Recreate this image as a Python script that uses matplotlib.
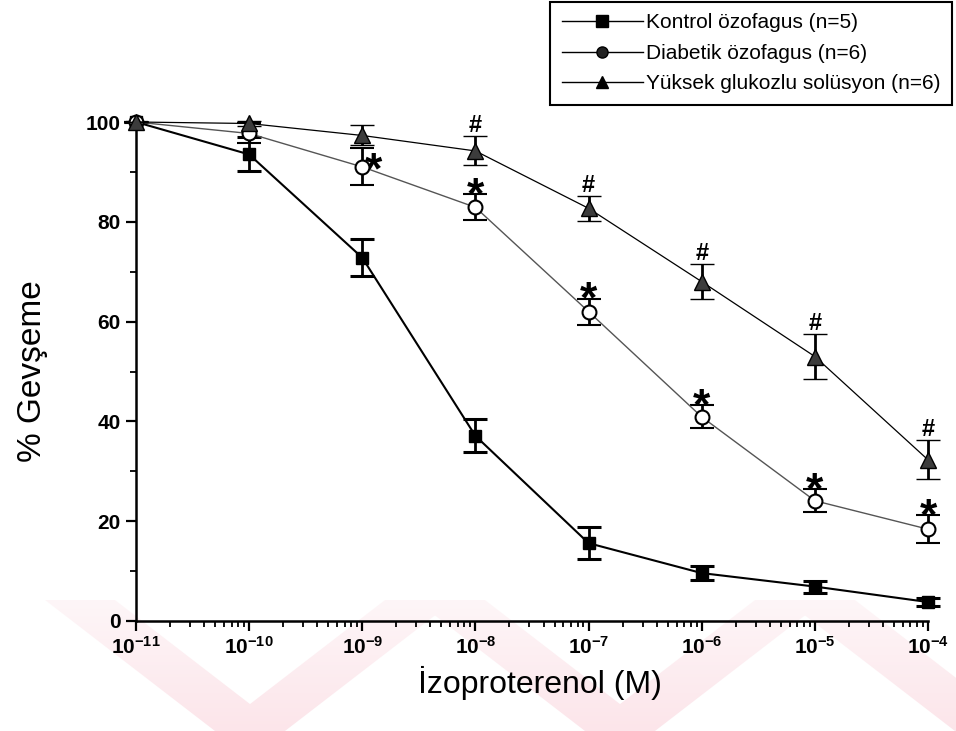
import numpy as np
import matplotlib
matplotlib.use("Agg")
import matplotlib.pyplot as plt
from matplotlib.lines import Line2D
from matplotlib.path import Path
from matplotlib.patches import PathPatch
from matplotlib.ticker import FixedLocator, FixedFormatter, LogLocator, NullFormatter, MultipleLocator

plt.rcParams['font.family'] = ['Liberation Sans', 'DejaVu Sans']
plt.rcParams['mathtext.fontset'] = 'custom'
plt.rcParams['mathtext.rm'] = 'Liberation Sans'
plt.rcParams['mathtext.bf'] = 'Liberation Sans:bold'

# log10 of isoproterenol concentration (M)
log_conc = [-11, -10, -9, -8, -7, -6, -5, -4]

kontrol = [100, 93.5, 72.8, 37.1, 15.6, 9.6, 6.9, 3.8]
kontrol_sem = [0, 3.4, 3.7, 3.3, 3.2, 1.4, 1.2, 0.8]

diabetik = [100, 97.7, 91.0, 82.9, 62.0, 40.9, 24.1, 18.4]
diabetik_sem = [0, 2.0, 3.7, 2.6, 2.6, 2.3, 2.3, 2.8]

yuksek = [100, 99.7, 97.3, 94.2, 82.7, 68.0, 53.0, 32.3]
yuksek_sem = [0, 0.6, 2.0, 2.9, 2.5, 3.5, 4.5, 3.9]

# points marked as significant
diabetik_star = [-8, -7, -6, -5, -4]
diabetik_star_side = [-9]
yuksek_hash = [-8, -7, -6, -5, -4]

legend_labels = ['Kontrol özofagus (n=5)', 'Diabetik özofagus (n=6)',
                 'Yüksek glukozlu solüsyon (n=6)']
xtick_labels = [r'$\mathbf{10^{-%d}}$' % (-e) for e in log_conc]

conc = [10.0 ** e for e in log_conc]

W, H = 956, 731
fig = plt.figure(figsize=(W / 100, H / 100), dpi=100)

# pale pink chevron stripes along the bottom of the page, fading upwards
bg = fig.add_axes([0, 0, 1, 1], zorder=-1)
bg.set_xlim(0, W)
bg.set_ylim(H, 0)
bg.axis('off')
polys = []
for xv in [250, 620, 990]:
    for dx in [-170, 170]:
        pts = [(xv + dx - 35, 600), (xv + dx + 35, 600), (xv + 35, H), (xv - 35, H), (xv + dx - 35, 600)]
        polys.append(Path(pts, closed=True))
stripes = PathPatch(Path.make_compound_path(*polys), facecolor='none', edgecolor='none',
                    transform=bg.transData)
bg.add_patch(stripes)
fade = np.linspace(0.35, 1.0, 64)[:, None] * np.ones((1, 4))
grad = np.zeros((64, 4, 4))
grad[..., 0] = 0.99
grad[..., 1] = 0.90
grad[..., 2] = 0.92
grad[..., 3] = fade
im = bg.imshow(grad, extent=(0, W, H, 600), aspect='auto', interpolation='bilinear')
im.set_clip_path(stripes)

ax = fig.add_axes([136 / W, 1 - 621 / H, (928 - 136) / W, (621 - 122) / H])
ax.patch.set_alpha(0)

eb = dict(capsize=8.5, elinewidth=2, capthick=2.2, ecolor='black', clip_on=False)
ax.errorbar(conc, kontrol, yerr=kontrol_sem, color='black', lw=1.5, marker='s', ms=9,
            mfc='black', mec='black', zorder=3, **eb)
ax.errorbar(conc, diabetik, yerr=diabetik_sem, color='#555555', lw=1.0, marker='o', ms=10,
            mfc='white', mec='black', mew=1.5, zorder=4, **eb)
ax.errorbar(conc, yuksek, yerr=yuksek_sem, color='black', lw=0.9, marker='^', ms=11,
            mfc='#3c3c3c', mec='black', mew=1.0, zorder=5, **eb)

for e in diabetik_star:
    i = log_conc.index(e)
    ax.annotate('*', xy=(10.0 ** e, diabetik[i] + diabetik_sem[i]), xytext=(0, -10),
                textcoords='offset points', ha='center', va='baseline',
                fontsize=32, fontweight='bold')
for e in diabetik_star_side:
    i = log_conc.index(e)
    ax.annotate('*', xy=(10.0 ** e, diabetik[i]), xytext=(8, -12),
                textcoords='offset points', ha='center', va='baseline',
                fontsize=32, fontweight='bold')
for e in yuksek_hash:
    i = log_conc.index(e)
    ax.annotate('#', xy=(10.0 ** e, yuksek[i] + yuksek_sem[i]), xytext=(0, 3),
                textcoords='offset points', ha='center', va='baseline',
                fontsize=17, fontweight='bold')

ax.set_xscale('log')
ax.set_xlim(1e-11, 1e-4)
ax.set_ylim(0, 100)

ax.xaxis.set_major_locator(FixedLocator(conc))
ax.xaxis.set_major_formatter(FixedFormatter(xtick_labels))
ax.xaxis.set_minor_locator(LogLocator(base=10, subs=np.arange(2, 10)))
ax.xaxis.set_minor_formatter(NullFormatter())
ax.yaxis.set_major_locator(MultipleLocator(20))
ax.yaxis.set_minor_locator(MultipleLocator(10))

for side in ['top', 'right']:
    ax.spines[side].set_visible(False)
for side in ['left', 'bottom']:
    ax.spines[side].set_linewidth(1.8)

ax.tick_params(which='major', direction='out', length=7, width=1.6, labelsize=15, pad=4)
ax.tick_params(which='minor', direction='out', length=4.5, width=1.3)
for lab in ax.get_yticklabels():
    lab.set_fontweight('bold')

ax.set_xlabel('İzoproterenol (M)', fontsize=23)
ax.set_ylabel('% Gevşeme', fontsize=24)
ax.xaxis.set_label_coords(0.51, -0.124)
ax.xaxis.label.set_va('center')
ax.yaxis.set_label_coords(-0.131, 0.5)
ax.yaxis.label.set_va('center')

handles = [
    Line2D([], [], color='black', lw=1, marker='s', ms=8, mfc='black', mec='black'),
    Line2D([], [], color='black', lw=1, marker='o', ms=8, mfc='#222222', mec='black'),
    Line2D([], [], color='black', lw=1, marker='^', ms=9, mfc='black', mec='black'),
]
leg = fig.legend(handles, legend_labels, loc='upper right',
                 bbox_to_anchor=(952 / W, 1 - 2 / H), borderaxespad=0,
                 frameon=True, fancybox=False, edgecolor='black', framealpha=1,
                 handlelength=3.9, handletextpad=0.15, labelspacing=0.55, borderpad=0.55,
                 prop={'size': 15})
leg.get_frame().set_linewidth(1.5)

fig.savefig('out.png', dpi=100)
